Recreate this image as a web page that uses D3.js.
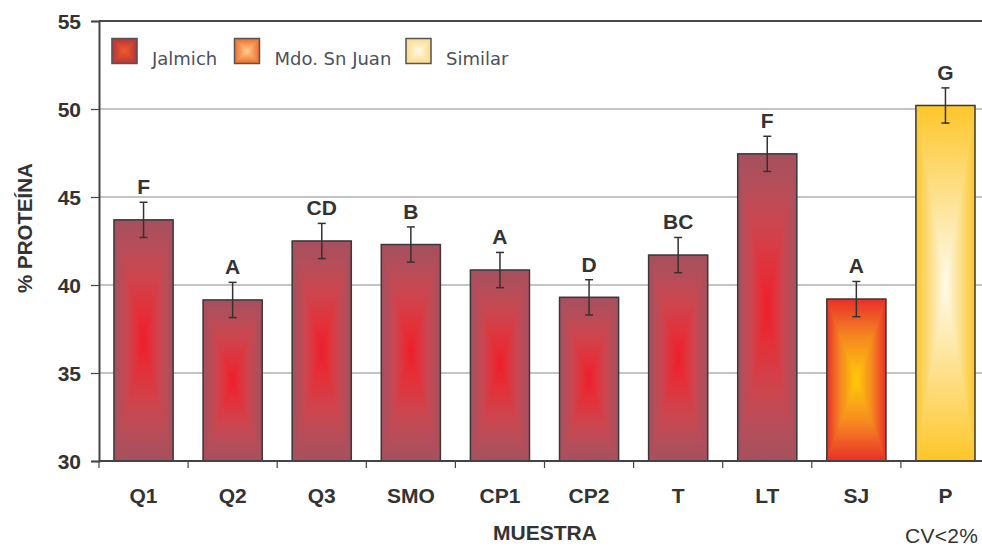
<!DOCTYPE html>
<html>
<head>
<meta charset="utf-8">
<script src="https://cdn.jsdelivr.net/npm/d3@7"></script>
<style>
  body { margin: 0; background: #fff; }
  svg { display: block; }
  .bold { font-family: "Liberation Sans", Arial, sans-serif; font-weight: bold; fill: #333; }
</style>
</head>
<body>
<div id="chart"></div>
<script>
const categories = ["Q1", "Q2", "Q3", "SMO", "CP1", "CP2", "T", "LT", "SJ", "P"];
const proteina = [43.7, 39.15, 42.5, 42.3, 40.85, 39.3, 41.7, 47.45, 39.2, 50.2];
const errores = [1.0, 1.0, 1.0, 1.0, 1.0, 1.0, 1.0, 1.0, 1.0, 1.0];
const letras = ["F", "A", "CD", "B", "A", "D", "BC", "F", "A", "G"];
const grupos = ["Jalmich", "Jalmich", "Jalmich", "Jalmich", "Jalmich", "Jalmich", "Jalmich", "Jalmich", "Mdo. Sn Juan", "Similar"];
const legendLabels = ["Jalmich", "Mdo. Sn Juan", "Similar"];
const yTicks = [30, 35, 40, 45, 50, 55];

// gradient stops per group (edge -> center)
const barStops = {
  "Jalmich": [["0", "#a5505e"], ["0.2", "#b44e5a"], ["0.45", "#cc464f"], ["0.75", "#e3313a"], ["1", "#ef1d2b"]],
  "Mdo. Sn Juan": [["0", "#e8302a"], ["0.45", "#f58420"], ["1", "#ffcc08"]],
  "Similar": [["0", "#fdc629"], ["0.5", "#fde08c"], ["1", "#fffbea"]],
};
const legendStops = {
  "Jalmich": [["0", "#b3333b"], ["1", "#f25c2a"]],
  "Mdo. Sn Juan": [["0", "#ee6a2a"], ["1", "#fdd08c"]],
  "Similar": [["0", "#fdd888"], ["1", "#fffbe6"]],
};

const width = 982;
const height = 546;
const margin = { left: 99, right: -8, top: 21, bottom: 85 };

const svg = d3.select("#chart")
  .append("svg")
  .attr("width", width)
  .attr("height", height);

const defs = svg.append("defs");

const makeGradients = (key, stops) => {
  const dirs = {
    l: { x1: 0, y1: 0, x2: 1, y2: 0 },
    r: { x1: 1, y1: 0, x2: 0, y2: 0 },
    t: { x1: 0, y1: 0, x2: 0, y2: 1 },
    b: { x1: 0, y1: 1, x2: 0, y2: 0 },
  };
  Object.entries(dirs).forEach(([d, c]) => {
    const grad = defs.append("linearGradient")
      .attr("id", `${key}-${d}`)
      .attr("x1", c.x1).attr("y1", c.y1)
      .attr("x2", c.x2).attr("y2", c.y2);
    stops.forEach(([o, col]) => grad.append("stop").attr("offset", o).attr("stop-color", col));
  });
};

const slug = (s) => s.replace(/[^a-z]/gi, "");
Object.entries(barStops).forEach(([k, s]) => makeGradients("bar" + slug(k), s));
Object.entries(legendStops).forEach(([k, s]) => makeGradients("leg" + slug(k), s));

// rectangle "path gradient": four triangles meeting at the centre
const gradRect = (g, x0, y0, w, h, key, mid) => {
  const x1 = x0 + w, y1 = y0 + h, cx = x0 + w / 2, cy = y0 + h / 2;
  g.append("rect").attr("x", x0).attr("y", y0).attr("width", w).attr("height", h).attr("fill", mid);
  const tris = [
    ["l", [[x0, y0], [x0, y1], [cx, cy]]],
    ["r", [[x1, y0], [x1, y1], [cx, cy]]],
    ["t", [[x0, y0], [x1, y0], [cx, cy]]],
    ["b", [[x0, y1], [x1, y1], [cx, cy]]],
  ];
  tris.forEach(([d, pts]) => {
    g.append("path")
      .attr("d", "M" + pts.map((p) => p.join(",")).join("L") + "Z")
      .attr("fill", `url(#${key}-${d})`)
      .attr("stroke", `url(#${key}-${d})`)
      .attr("stroke-width", 0.6);
  });
  g.append("rect").attr("x", x0).attr("y", y0).attr("width", w).attr("height", h)
    .attr("fill", "none").attr("stroke", "#3a3a3a").attr("stroke-width", 1.5);
};

const xScale = d3.scaleBand()
  .domain(categories)
  .range([margin.left, width - margin.right])
  .paddingInner(0.337)
  .paddingOuter(0.1685);

const yScale = d3.scaleLinear()
  .domain([d3.min(yTicks), d3.max(yTicks)])
  .range([height - margin.bottom, margin.top]);

// grid
svg.append("g")
  .selectAll("line")
  .data(yTicks.slice(1, -1))
  .join("line")
  .attr("x1", margin.left).attr("x2", width)
  .attr("y1", (d) => yScale(d)).attr("y2", (d) => yScale(d))
  .attr("stroke", "#8a8a8a").attr("stroke-width", 1.2);

svg.append("line")
  .attr("x1", margin.left).attr("x2", width)
  .attr("y1", yScale(55)).attr("y2", yScale(55))
  .attr("stroke", "#4a4a4a").attr("stroke-width", 2);

// bars
const barGroup = svg.append("g");
categories.forEach((c, i) => {
  const key = "bar" + slug(grupos[i]);
  const stops = barStops[grupos[i]];
  const y0 = yScale(proteina[i]);
  gradRect(barGroup, xScale(c), y0, xScale.bandwidth(), yScale(30) - y0, key, stops[1][1]);
});

// error bars
const errGroup = svg.append("g").attr("stroke", "#333").attr("stroke-width", 1.5);
categories.forEach((c, i) => {
  const cx = xScale(c) + xScale.bandwidth() / 2;
  const top = yScale(proteina[i] + errores[i]);
  const bot = yScale(proteina[i] - errores[i]);
  errGroup.append("line").attr("x1", cx).attr("x2", cx).attr("y1", top).attr("y2", bot);
  errGroup.append("line").attr("x1", cx - 4).attr("x2", cx + 4).attr("y1", top).attr("y2", top);
  errGroup.append("line").attr("x1", cx - 4).attr("x2", cx + 4).attr("y1", bot).attr("y2", bot);
});

// significance letters
svg.append("g")
  .selectAll("text")
  .data(categories)
  .join("text")
  .attr("class", "bold")
  .attr("x", (d) => xScale(d) + xScale.bandwidth() / 2)
  .attr("y", (d, i) => yScale(proteina[i] + errores[i]) - 8)
  .attr("text-anchor", "middle")
  .attr("font-size", 21)
  .text((d, i) => letras[i]);

// y axis
const yAxis = svg.append("g").attr("transform", `translate(${margin.left},0)`);
yAxis.call(d3.axisLeft(yScale).tickValues(d3.range(30, 55.01, 1)).tickSize(4).tickFormat(""));
yAxis.call(d3.axisLeft(yScale).tickValues(yTicks).tickSize(8).tickPadding(10).tickFormat(d3.format("d")));
yAxis.selectAll("line").attr("stroke", "#444").attr("stroke-width", 1.2);
yAxis.selectAll(".domain").attr("stroke", "#444").attr("stroke-width", 2);
yAxis.selectAll("text").attr("class", "bold").attr("font-size", 21).attr("dy", "0.36em");

// x axis
const step = xScale.step();
const bounds = categories.map((c) => xScale(c) - step * xScale.paddingInner() / 2);
const xAxis = svg.append("g").attr("transform", `translate(0,${yScale(30)})`);
xAxis.append("line").attr("x1", margin.left).attr("x2", width)
  .attr("stroke", "#444").attr("stroke-width", 2);
xAxis.selectAll(".tk")
  .data(bounds)
  .join("line")
  .attr("class", "tk")
  .attr("x1", (d) => d).attr("x2", (d) => d)
  .attr("y1", 0).attr("y2", 7)
  .attr("stroke", "#444").attr("stroke-width", 1.2);
xAxis.selectAll(".lbl")
  .data(categories)
  .join("text")
  .attr("class", "bold lbl")
  .attr("x", (d) => xScale(d) + xScale.bandwidth() / 2)
  .attr("y", 42)
  .attr("text-anchor", "middle")
  .attr("font-size", 21)
  .text((d) => d);

// axis titles
svg.append("text")
  .attr("class", "bold")
  .attr("x", 545).attr("y", 540)
  .attr("text-anchor", "middle")
  .attr("font-size", 21)
  .text("MUESTRA");

svg.append("text")
  .attr("class", "bold")
  .attr("transform", "translate(32,228) rotate(-90)")
  .attr("text-anchor", "middle")
  .attr("font-size", 20.5)
  .text("% PROTEÍNA");

svg.append("text")
  .attr("x", 905).attr("y", 542.5)
  .attr("font-family", "Liberation Sans, Arial, sans-serif")
  .attr("font-size", 21)
  .attr("letter-spacing", 0.3)
  .attr("fill", "#333")
  .text("CV<2%");

// legend
const legendX = [112, 234.5, 406];
const legend = svg.append("g");
legendLabels.forEach((l, i) => {
  const g = legend.append("g");
  gradRect(g, legendX[i], 38.5, 25, 25, "leg" + slug(l), legendStops[l][0][1]);
  g.select("rect:last-child").attr("stroke", "#555");
  g.append("text")
    .attr("x", legendX[i] + 40)
    .attr("y", 65)
    .attr("font-family", "DejaVu Sans, sans-serif")
    .attr("font-size", 18)
    .attr("fill", "#4a525c")
    .text(l);
});
</script>
</body>
</html>
